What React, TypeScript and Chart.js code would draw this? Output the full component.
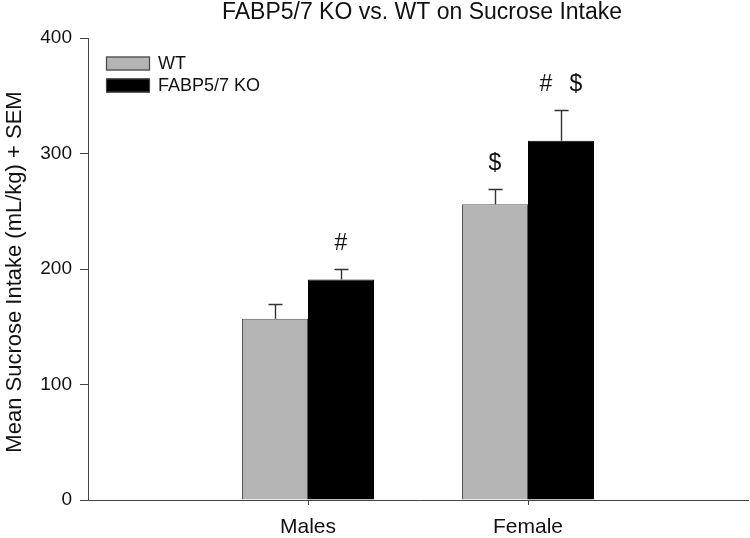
import React, { useEffect, useRef } from "react";
import { Chart, registerables } from "chart.js";

Chart.register(...registerables);

const title = "FABP5/7 KO vs. WT on Sucrose Intake";
const yTitle = "Mean Sucrose Intake (mL/kg) + SEM";
const categories = ["Males", "Female"];
const seriesNames = ["WT", "FABP5/7 KO"];
const wtMean = [157, 256];
const wtSem = [13, 13];
const koMean = [191, 311];
const koSem = [9, 27];
const wtMarks = [[], ["$"]];
const koMarks = [["#"], ["#", "$"]];
const yTicks = [0, 100, 200, 300, 400];

const FONT = "'Liberation Sans', Arial, sans-serif";

export default function App() {
  const ref = useRef<HTMLCanvasElement | null>(null);
  useEffect(() => {
    document.body.style.margin = "0";
    const labels = ["", ...categories, ""];
    const pad = (a: any[]) => [null, ...a, null];
    const sems = [pad(wtSem), pad(koSem)];
    const marks = [pad(wtMarks), pad(koMarks)];
    const colors = ["#b4b4b4", "#000000"];

    const plugin = {
      id: "extras",
      afterDatasetsDraw(chart: any) {
        const ctx = chart.ctx;
        const y = chart.scales.y;
        const ca = chart.chartArea;
        ctx.save();
        // error bars and marks
        chart.data.datasets.forEach((ds: any, di: number) => {
          const meta = chart.getDatasetMeta(di);
          meta.data.forEach((bar: any, i: number) => {
            const v = ds.data[i];
            if (v == null) return;
            const top = Math.round(y.getPixelForValue(v + sems[di][i])) + 0.5;
            const x = Math.round(bar.x) + 0.5;
            ctx.strokeStyle = "#333";
            ctx.lineWidth = 1.4;
            ctx.beginPath();
            ctx.moveTo(x, bar.y);
            ctx.lineTo(x, top);
            ctx.moveTo(x - 7, top);
            ctx.lineTo(x + 7, top);
            ctx.stroke();
            const m: string[] = marks[di][i] || [];
            ctx.fillStyle = "#111";
            ctx.font = `23px ${FONT}`;
            ctx.textAlign = "center";
            ctx.textBaseline = "middle";
            m.forEach((g, k) => {
              const off = (k - (m.length - 1) / 2) * 30;
              ctx.fillText(g, bar.x + off, top - 26);
            });
          });
        });
        // title
        ctx.fillStyle = "#111";
        ctx.font = `23px ${FONT}`;
        ctx.textAlign = "center";
        ctx.textBaseline = "middle";
        ctx.fillText(title, (ca.left + ca.right) / 2 + 4, 13);
        // y title
        ctx.save();
        ctx.translate(15, (ca.top + ca.bottom) / 2 + 3);
        ctx.rotate(-Math.PI / 2);
        ctx.font = `22px ${FONT}`;
        ctx.fillText(yTitle, 0, 0);
        ctx.restore();
        // legend
        seriesNames.forEach((name, k) => {
          const ly = 63.5 + k * 22;
          ctx.fillStyle = colors[k];
          ctx.fillRect(106, ly - 7, 44, 14);
          ctx.strokeStyle = "#444";
          ctx.lineWidth = 1.2;
          ctx.strokeRect(106.5, ly - 6.5, 43, 13);
          ctx.fillStyle = "#111";
          ctx.font = `18px ${FONT}`;
          ctx.textAlign = "left";
          ctx.textBaseline = "middle";
          ctx.fillText(name, 158, ly + 1);
        });
        ctx.restore();
      },
    };

    const chart = new Chart(ref.current as HTMLCanvasElement, {
      type: "bar",
      data: {
        labels,
        datasets: [
          {
            label: seriesNames[0],
            data: pad(wtMean),
            backgroundColor: colors[0],
            borderColor: "#555",
            borderWidth: 1,
            categoryPercentage: 0.6,
            barPercentage: 1.0,
          },
          {
            label: seriesNames[1],
            data: pad(koMean),
            backgroundColor: colors[1],
            borderColor: "#000",
            borderWidth: 1,
            categoryPercentage: 0.6,
            barPercentage: 1.0,
          },
        ],
      },
      options: {
        animation: false,
        responsive: false,
        maintainAspectRatio: false,
        layout: { padding: { left: 0, right: 2, top: 38, bottom: 0 } },
        plugins: {
          legend: { display: false },
          title: { display: false },
          tooltip: { enabled: false },
        },
        scales: {
          x: {
            offset: false,
            grid: {
              offset: false,
              drawOnChartArea: false,
              drawTicks: true,
              tickLength: 5,
              color: (c: any) => (c.index === 1 || c.index === 2 ? "#444" : "rgba(0,0,0,0)"),
            },
            border: { display: true, color: "#444", width: 1 },
            ticks: {
              color: "#111",
              font: { family: FONT, size: 21 },
              padding: 10,
              autoSkip: false,
              maxRotation: 0,
            },
            afterFit: (s: any) => {
              s.height = 38;
              s.paddingLeft = 0;
              s.paddingRight = 0;
            },
          },
          y: {
            min: 0,
            max: 400,
            afterBuildTicks: (s: any) => {
              s.ticks = yTicks.map((v) => ({ value: v }));
            },
            grid: { drawOnChartArea: false, drawTicks: true, tickLength: 8, color: "#444" },
            border: { display: true, color: "#444", width: 1 },
            ticks: {
              color: "#111",
              font: { family: FONT, size: 19 },
              padding: 8,
            },
            afterFit: (s: any) => {
              s.width = 88;
              s.paddingTop = 0;
              s.paddingBottom = 0;
            },
          },
        },
      },
      plugins: [plugin],
    });
    return () => chart.destroy();
  }, []);
  return <canvas ref={ref} width={750} height={538} />;
}
